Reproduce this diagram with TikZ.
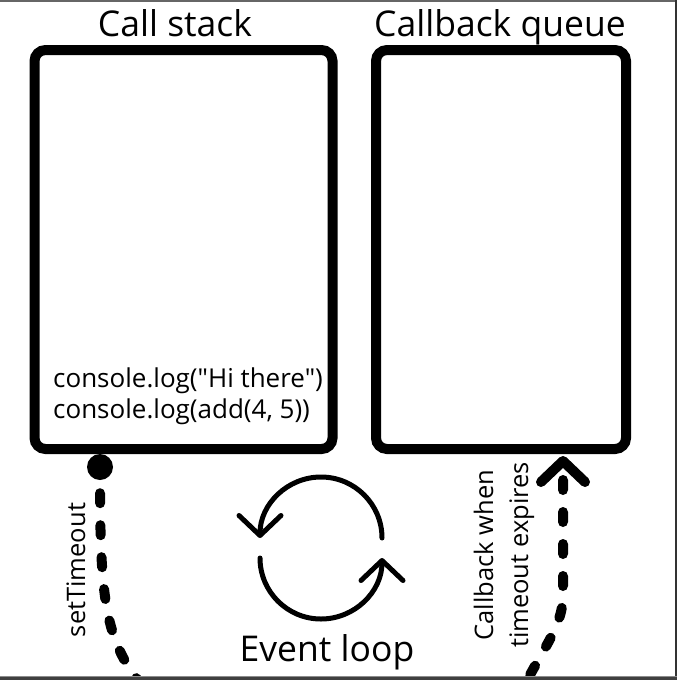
\documentclass[tikz,border=0pt]{standalone}
\usepackage{fontspec}
\setmainfont{Open Sans}
\newfontfamily\codefont{Open Sans}[Ligatures=TeXOff]
\usetikzlibrary{arrows.meta}
\begin{document}
\begin{tikzpicture}[x=1pt,y=1pt,
  box/.style={draw=black, line width=10pt, rounded corners=11pt, inner sep=0pt},
  title/.style={anchor=base, inner sep=0pt, font=\fontsize{35.5}{42}\selectfont},
  small/.style={inner sep=0pt, font=\fontsize{25.5}{31}\selectfont},
  codetext/.style={inner sep=0pt, anchor=base west, font=\codefont\fontsize{26}{31}\selectfont},
  dashline/.style={line width=10pt, line cap=round, dash pattern=on 10pt off 22pt},
  loop/.style={line width=5pt, line cap=round, -{Straight Barb[length=20pt,width=42pt,round]}},
  barb/.style={{Straight Barb[length=21pt,width=44pt,round]}-}
]
\useasboundingbox (0,0) rectangle (677,-680);
\fill[white] (0,0) rectangle (677,-680);

% boxes
\node[box, minimum width=298pt, minimum height=399pt] (stack) at (183.5,-249.5) {};
\node[box, minimum width=250pt, minimum height=399pt] (queue) at (501,-249.5) {};

% titles
\node[title] (t1) at (175,-36) {Call stack};
\node[title] (t2) at (500,-36) {Callback queue};

% code
\node[codetext] (c1) at (53,-387) {console.log("Hi there")};
\node[codetext] (c2) at (53,-418) {console.log(add(4, 5))};

% setTimeout connector
\node[circle, fill=black, minimum size=26pt, inner sep=0pt] (dot) at (100,-467) {};
\coordinate (lend) at (140,-683);
\draw[dashline, dash phase=19pt] (dot.south) .. controls (100,-600) and (106,-640) .. (lend);
\node[small, rotate=90, anchor=base] (st) at (85,-570) {setTimeout};

% callback connector
\coordinate (rstart) at (522,-690);
\coordinate (rtip) at ([xshift=192pt,yshift=-2pt]queue.south west);
\draw[dashline, barb, dash phase=18pt] (rtip) -- (563,-595) .. controls (563,-625) and (545,-645) .. (rstart);
\node[small, rotate=90, anchor=base] (cb1) at (493,-555) {Callback when};
\node[small, rotate=90, anchor=base] (cb2) at (528,-555) {timeout expires};

% event loop
\draw[loop] (382,-538) arc[start angle=0, end angle=180, radius=61pt];
\draw[loop] (260,-558) arc[start angle=180, end angle=360, radius=61pt];
\node[title] (el) at (327,-661) {Event loop};

% frame
\fill[black!60] (0,0) rectangle (677,-1.5);
\fill[black!80] (675,0) rectangle (677,-680);
\fill[black!75] (0,-676) rectangle (677,-680);
\fill[black!45] (0,-675.5) rectangle (677,-676.5);
\end{tikzpicture}
\end{document}
